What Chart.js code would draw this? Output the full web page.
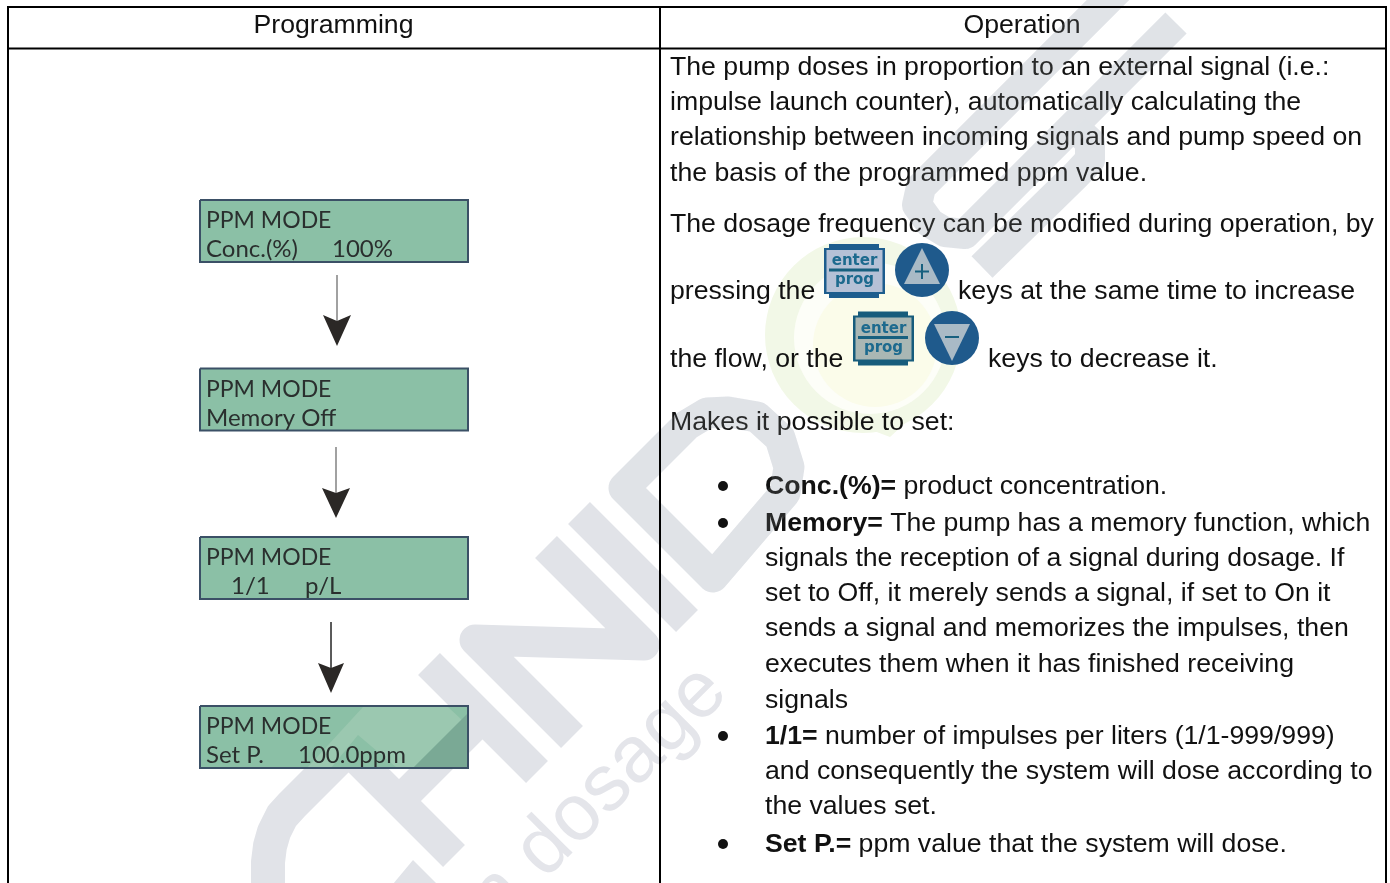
<!DOCTYPE html>
<html>
<head>
<meta charset="utf-8">
<title>PPM mode</title>
<script src="https://cdn.jsdelivr.net/npm/chart.js@4/dist/chart.umd.min.js"></script>
<style>
  html, body { margin: 0; padding: 0; background: #fff; overflow: hidden; }
  #wrap { width: 1390px; height: 883px; }
</style>
</head>
<body>
<div id="wrap"><canvas id="page"></canvas></div>
<script>
// text
const columnHeaders = ['Programming', 'Operation'];
const lcdTitle = 'PPM MODE';
const lcdRows = [['Conc.(%)', '100%'], ['Memory Off'], ['1/1', 'p/L'], ['Set P.', '100.0ppm']];
const plainLines = [
  'The pump doses in proportion to an external signal (i.e.:',
  'impulse launch counter), automatically calculating the',
  'relationship between incoming signals and pump speed on',
  'the basis of the programmed ppm value.',
  'The dosage frequency can be modified during operation, by',
  'pressing the',
  'keys at the same time to increase',
  'the flow, or the',
  'keys to decrease it.',
  'Makes it possible to set:'
];
const bulletLines = [
  ['Conc.(%)=', ' product concentration.'],
  ['Memory=', ' The pump has a memory function, which'],
  ['', 'signals the reception of a signal during dosage. If'],
  ['', 'set to Off, it merely sends a signal, if set to On it'],
  ['', 'sends a signal and memorizes the impulses, then'],
  ['', 'executes them when it has finished receiving'],
  ['', 'signals'],
  ['1/1=', ' number of impulses per liters (1/1-999/999)'],
  ['', 'and consequently the system will dose according to'],
  ['', 'the values set.'],
  ['Set P.=', ' ppm value that the system will dose.']
];
const keyWords = ['enter', 'prog'];
const watermarkWords = 'n dosage';

// layout, in page pixels
const plainPos = [[670, 75], [670, 110], [670, 145], [670, 181], [670, 232], [670, 299], [958, 299], [670, 367], [988, 367], [670, 430]];
const bulletY = [494, 531, 566, 601, 636, 672, 708, 744, 779, 814, 852];
const lcdTops = [200, 368.5, 537, 706];
const lcdColX = [[206, 332], [206], [231, 305], [206, 298]];
const arrows = [
  { x: 337, from: 275, neck: 321, wing: 315, tip: 346, half: 14, color: '#8a8a8a', w: 1.6 },
  { x: 336, from: 447, neck: 493, wing: 488, tip: 518, half: 14, color: '#8a8a8a', w: 1.6 },
  { x: 331, from: 622, neck: 668, wing: 663, tip: 693, half: 13, color: '#444444', w: 1 }
];
const keys = [
  { x: 824, y: 244, fill: '#b5c1d6', edge: '#1d5d8e', disc: [922, 270], up: true },
  { x: 853, y: 311.5, fill: '#aab7b4', edge: '#175c7c', disc: [952, 338], up: false }
];

// watermark strokes
const wmGrey = '#e1e3e8';
const strokeC = [[342, 755], [292, 805], [282, 816], [274, 832], [270, 846], [268, 862], [268, 890]];
const strokeHa = [[346, 748], [454, 856]];
const strokeHb = [[429, 664], [537, 772]];
const strokeHc = [[399, 801], [482, 718]];
const strokeN = [[546, 547], [644, 645], [475, 640], [572, 737]];
const strokeI = [[579, 513], [687, 621]];
const strokeD = [[624, 488], [687, 425], [707, 413], [728, 412], [757, 417], [780, 438], [789, 467], [785, 493], [713, 577], [624, 488], [640, 504]];
const strokeS1 = [[1128, -20], [921, 187], [917, 205], [930, 223], [945, 232], [965, 234], [1176, 23]];
const strokeS2 = [[982, 267], [1076, 175], [1090, 160], [1090, 142], [1075, 128]];
const wedgeBottom = [[393, 884], [413, 860], [437, 884], [393, 884]];
const lcdPale = [[307, 768], [363, 707], [448, 707], [462, 720], [413, 768], [397, 768], [358, 735], [331, 768], [307, 768]];
const lcdDark = [[413, 768], [467, 714], [467, 768], [413, 768]];

const pts = list => list.map(p => ({ x: p[0], y: p[1] }));
const datasets = [];
function stroke(list, color, width, join) {
  datasets.push({ data: pts(list), showLine: true, borderColor: color, borderWidth: width, pointRadius: 0, fill: false, borderJoinStyle: join || 'miter', borderCapStyle: 'butt' });
}
function shape(list, color) {
  datasets.push({ data: pts(list), showLine: true, borderWidth: 0, borderColor: 'transparent', backgroundColor: color, pointRadius: 0, fill: 'shape' });
}
function disc(x, y, r, color) {
  datasets.push({ data: [{ x: x, y: y }], showLine: false, pointRadius: r, pointBorderWidth: 0, pointBackgroundColor: color });
}

// pale logo behind the text
disc(863, 335, 98, '#f2f8e7');
disc(870, 338, 76, '#fdfef8');
disc(875, 345, 62, '#fbfcea');
shape([[845, 420], [890, 437], [925, 405], [845, 420]], '#f2f8e7');

// watermark, lower layer
stroke(strokeC, wmGrey, 34, 'round');
shape(wedgeBottom, wmGrey);
[strokeHa, strokeHb, strokeHc, strokeI].forEach(s => stroke(s, wmGrey, 31));
stroke(strokeN, wmGrey, 31, 'round');
stroke(strokeD, wmGrey, 31, 'round');
stroke(strokeS1, wmGrey, 30, 'round');
stroke(strokeS2, wmGrey, 30, 'round');

// lcd screens
lcdTops.forEach(top => {
  const box = [[200, top], [468, top], [468, top + 62], [200, top + 62], [200, top]];
  shape(box, '#8bc0a6');
  if (top === lcdTops[3]) { shape(lcdPale, '#9bc8b0'); shape(lcdDark, '#7aa995'); }
  stroke(box, '#3b5066', 2);
});

// arrows
arrows.forEach(a => {
  stroke([[a.x, a.from], [a.x, a.neck]], a.color, a.w);
  shape([[a.x - a.half, a.wing], [a.x, a.neck], [a.x + a.half, a.wing], [a.x, a.tip], [a.x - a.half, a.wing]], '#2b2826');
});

// enter/prog keys and the +/- discs
keys.forEach(k => {
  const x = k.x, y = k.y;
  shape([[x, y + 4], [x + 5, y + 4], [x + 5, y], [x + 55, y], [x + 55, y + 4], [x + 61, y + 4], [x + 61, y + 50], [x + 55, y + 50], [x + 55, y + 54], [x + 5, y + 54], [x + 5, y + 50], [x, y + 50], [x, y + 4]], k.edge);
  shape([[x + 2.5, y + 6], [x + 58.5, y + 6], [x + 58.5, y + 48], [x + 2.5, y + 48], [x + 2.5, y + 6]], k.fill);
  stroke([[x + 5, y + 26], [x + 55, y + 26]], '#17607f', 3);
  const cx = k.disc[0], cy = k.disc[1];
  disc(cx, cy, 27, '#1f5a8c');
  const tip = k.up ? cy - 22 : cy + 23, base = k.up ? cy + 14 : cy - 14;
  shape([[cx, tip], [cx + 18, base], [cx - 18, base], [cx, tip]], '#a9bac6');
  if (k.up) stroke([[cx, cy - 6], [cx, cy + 9]], '#17607f', 2);
  stroke([[cx - 7, k.up ? cy + 1.5 : cy - 1], [cx + 7, k.up ? cy + 1.5 : cy - 1]], '#17607f', 2);
});

// same strokes again, thin veil over the right column text
const veilStart = datasets.length;
const veil = 'rgba(225,227,232,0.12)';
stroke(strokeD, veil, 31, 'round');
stroke(strokeS1, veil, 30, 'round');
stroke(strokeS2, veil, 30, 'round');

// table rules on top
stroke([[8, 7], [1386, 7]], '#000', 2);
stroke([[8, 48.5], [1386, 48.5]], '#000', 2);
stroke([[8, 6], [8, 883]], '#000', 2);
stroke([[660, 6], [660, 883]], '#000', 2);
stroke([[1386, 6], [1386, 883]], '#000', 2);

datasets.forEach((d, i) => { d.order = datasets.length - i; });

const body = '26.67px "Liberation Sans"';
const bold = 'bold 26.67px "Liberation Sans"';

const textLayer = {
  id: 'textLayer',
  beforeDatasetDraw(chart, args) {
    if (args.index !== veilStart) return;
    const c = chart.ctx, sx = chart.scales.x, sy = chart.scales.y;
    const put = (s, x, y) => c.fillText(s, sx.getPixelForValue(x), sy.getPixelForValue(y));
    c.save();
    c.textBaseline = 'alphabetic';

    // watermark words
    c.save();
    c.translate(sx.getPixelForValue(497.6), sy.getPixelForValue(927.4));
    c.rotate(-Math.PI / 4);
    c.font = '80px "Liberation Sans"';
    c.fillStyle = '#e4e5ea';
    c.fillText(watermarkWords, 0, 0);
    c.restore();

    // headers
    c.fillStyle = '#111';
    c.font = body;
    c.textAlign = 'center';
    put(columnHeaders[0], 333.5, 33);
    put(columnHeaders[1], 1022, 33);
    c.textAlign = 'left';

    plainLines.forEach((s, i) => put(s, plainPos[i][0], plainPos[i][1]));

    bulletLines.forEach((row, i) => {
      const y = bulletY[i];
      let x = 765;
      if (row[0]) {
        c.font = bold;
        put(row[0], x, y);
        x += c.measureText(row[0]).width;
        c.beginPath();
        c.arc(sx.getPixelForValue(723), sy.getPixelForValue(y - 8), 5, 0, Math.PI * 2);
        c.fill();
      }
      c.font = body;
      put(row[1], x, y);
    });

    // lcd text
    c.fillStyle = '#2a2f2e';
    lcdTops.forEach((top, i) => {
      c.font = '23px Lato';
      put(lcdTitle, 206, top + 28);
      c.font = '24px Lato';
      lcdRows[i].forEach((s, j) => put(s, lcdColX[i][j], top + 57));
    });

    // key labels
    c.fillStyle = '#1d6a8e';
    c.font = 'bold 15px "DejaVu Sans"';
    c.textAlign = 'center';
    keys.forEach(k => {
      put(keyWords[0], k.x + 30.5, k.y + 21);
      put(keyWords[1], k.x + 30.5, k.y + 40);
    });
    c.restore();
  }
};

new Chart(document.getElementById('page').getContext('2d'), {
  type: 'scatter',
  data: { datasets: datasets },
  options: {
    responsive: true,
    maintainAspectRatio: false,
    animation: false,
    events: [],
    layout: { padding: 0, autoPadding: false },
    plugins: { legend: { display: false }, tooltip: { enabled: false } },
    scales: {
      x: { type: 'linear', min: 0, max: 1390, display: false },
      y: { type: 'linear', min: 0, max: 883, reverse: true, display: false }
    }
  },
  plugins: [textLayer]
});
</script>
</body>
</html>
